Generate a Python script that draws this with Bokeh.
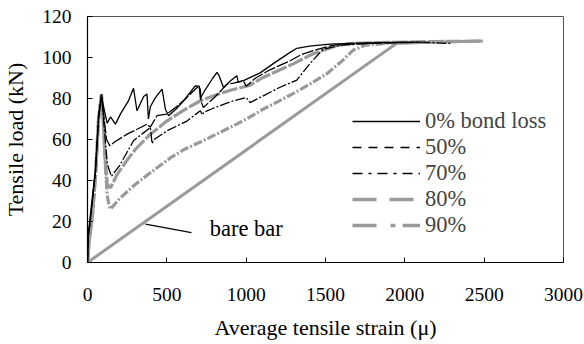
from bokeh.plotting import figure
from bokeh.models import FixedTicker, Legend, LegendItem, Range1d
from bokeh.core.properties import value
from bokeh.embed import file_html
from bokeh.resources import INLINE

# ---- data (average tensile strain in micro-strain, tensile load in kN) ----
x_ticks = [0, 500, 1000, 1500, 2000, 2500, 3000]
y_ticks = [0, 20, 40, 60, 80, 100, 120]

bond0_x = [0, 5, 25, 50, 70, 88, 107, 124, 145, 176, 208, 259, 290, 312, 354, 375, 384,
           396, 428, 470, 491, 511, 560, 606, 679, 705, 711, 740, 790, 816, 830, 857,
           900, 941, 950, 990, 1088, 1180, 1277, 1319, 1400, 1528, 1700, 2000]
bond0_y = [0, 14, 28, 45, 70, 81, 74, 68, 71, 67.5, 72.5, 79, 85, 74, 81, 82.2, 70,
           76, 80.4, 84.6, 74.8, 71.6, 75, 78.9, 86.2, 86, 80, 84, 90, 92.7, 91, 85.4,
           88.5, 91.1, 88, 89, 92.5, 97.5, 102.5, 104.5, 105.5, 106.5, 107, 107.5]

bond50_x = [0, 5, 25, 50, 70, 88, 105, 120, 140, 175, 250, 300, 375, 396, 438, 501, 560,
            620, 690, 711, 715, 730, 800, 879, 920, 983, 1000, 1060, 1150, 1277, 1350,
            1450, 1550, 1700, 1900, 2100]
bond50_y = [0, 12, 26, 44, 72, 82, 70, 60, 57, 59, 62.6, 64.5, 67.5, 66, 71.6, 72.4, 76,
            80, 85.4, 85, 78.9, 75.6, 80.5, 86.9, 87.5, 88.6, 86, 90, 94, 98.4, 101.5,
            104, 106, 106.8, 107.2, 107.5]

bond70_x = [0, 5, 25, 50, 70, 88, 105, 125, 150, 200, 290, 396, 407, 420, 501, 627, 711,
            725, 731, 800, 920, 1000, 1025, 1100, 1200, 1319, 1402, 1484, 1600, 1800,
            2100, 2300]
bond70_y = [0, 12, 26, 44, 72, 82, 66, 48, 42, 47, 59.4, 65.9, 58, 60, 64.2, 69, 74,
            72, 73.2, 75.5, 78.9, 80.5, 78, 81, 85, 89, 97, 104, 106, 107, 107.5, 106.8]

bond80_x = [0, 10, 30, 50, 70, 88, 100, 112, 125, 145, 187, 250, 300, 396, 500, 600, 711,
            800, 900, 1025, 1100, 1200, 1296, 1421, 1570, 1650, 1800, 2000, 2200, 2490]
bond80_y = [0, 10, 22, 42, 70, 82, 68, 50, 38, 36.5, 43, 50, 55, 62.6, 69, 74, 78.9,
            81.5, 84, 86.5, 90, 93.5, 96.9, 101.8, 105.7, 106.8, 107.2, 107.5, 107.8, 108]

bond90_x = [0, 10, 30, 50, 70, 88, 100, 112, 124, 135, 145, 200, 300, 400, 522, 606, 730,
            850, 941, 1025, 1100, 1200, 1298, 1400, 1507, 1600, 1673, 1750, 1900, 2100]
bond90_y = [0, 10, 22, 42, 70, 82, 68, 48, 33, 28, 26, 31, 38, 44, 51, 55, 59.5,
            64, 67.5, 71, 74.5, 78.5, 82.5, 87, 92, 98, 103.5, 106, 107, 107.5]

bare_x = [0, 1950, 2490]
bare_y = [0, 107, 108]

series_labels = ["0% bond loss", "50%", "70%", "80%", "90%"]
bare_label = "bare bar"

FONT = "Liberation Serif"
GREY = "#9a9a9a"

p = figure(width=584, height=344, output_backend="svg", toolbar_location=None,
           x_range=Range1d(0, 3000), y_range=Range1d(0, 120),
           min_border_left=87, min_border_right=21, min_border_top=16,
           min_border_bottom=82)

p.xgrid.visible = False
p.ygrid.visible = False
p.outline_line_color = "#555555"
p.outline_line_width = 1
p.background_fill_color = "white"

# bare bar
p.line(bare_x, bare_y, line_color=GREY, line_width=3)
# leader line and annotation for bare bar
p.line([365, 655], [18.7, 14.6], line_color="black", line_width=1.3)
p.text(x=[770], y=[16.8], text=[bare_label], text_font=value(FONT),
       text_font_size="22.5px", text_baseline="middle", text_align="left",
       text_color="black")

# data curves (dense measured curves: dashes appear short along the data)
p.line(bond90_x, bond90_y, line_color=GREY, line_width=3.2, line_dash="9 2 2 2")
p.line(bond80_x, bond80_y, line_color=GREY, line_width=3.2, line_dash="16 2")
p.line(bond70_x, bond70_y, line_color="black", line_width=1.3, line_dash="10 2 2 2")
p.line(bond50_x, bond50_y, line_color="black", line_width=1.3, line_dash="12 2")
p.line(bond0_x, bond0_y, line_color="black", line_width=1.3)

# legend samples (kept outside the visible ranges, only used for the legend)
off_x = [-200, -100]
off_y = [-20, -20]
r0l = p.line(off_x, off_y, line_color="black", line_width=1.3)
r50 = p.line(off_x, off_y, line_color="black", line_width=1.5, line_dash="9 7")
r70 = p.line(off_x, off_y, line_color="black", line_width=1.5, line_dash="10 6 3 6")
r80 = p.line(off_x, off_y, line_color=GREY, line_width=3.5, line_dash="24 13")
r90 = p.line(off_x, off_y, line_color=GREY, line_width=3.5, line_dash="24 14 5 7")

legend = Legend(items=[LegendItem(label=series_labels[0], renderers=[r0l]),
                       LegendItem(label=series_labels[1], renderers=[r50]),
                       LegendItem(label=series_labels[2], renderers=[r70]),
                       LegendItem(label=series_labels[3], renderers=[r80]),
                       LegendItem(label=series_labels[4], renderers=[r90])],
                location=(265, 24), padding=0, margin=0, spacing=0,
                glyph_width=68, glyph_height=24, label_height=24,
                label_standoff=5, label_text_font=FONT,
                label_text_font_size="22.5px", border_line_alpha=0,
                background_fill_alpha=0)
p.add_layout(legend, "center")

for ax in (p.xaxis[0], p.yaxis[0]):
    ax.axis_line_color = "black"
    ax.axis_line_width = 1.2
    ax.major_tick_in = 5
    ax.major_tick_out = 0
    ax.minor_tick_line_color = None
    ax.major_tick_line_color = "black"
    ax.major_label_text_font = FONT
    ax.major_label_text_font_size = "19.5px"
    ax.major_label_text_color = "black"
    ax.axis_label_text_font = FONT
    ax.axis_label_text_font_size = "22px"
    ax.axis_label_text_font_style = "normal"
    ax.axis_label_text_color = "black"

p.xaxis.ticker = FixedTicker(ticks=x_ticks)
p.yaxis.ticker = FixedTicker(ticks=y_ticks)
p.xaxis.axis_label = "Average tensile strain (\u03bc)"
p.yaxis.axis_label = "Tensile load (kN)"
p.xaxis.major_label_standoff = 25
p.xaxis.axis_label_standoff = 11
p.yaxis.major_label_standoff = 16
p.yaxis.axis_label_standoff = 11

open("out.html", "w").write(file_html(p, INLINE))
